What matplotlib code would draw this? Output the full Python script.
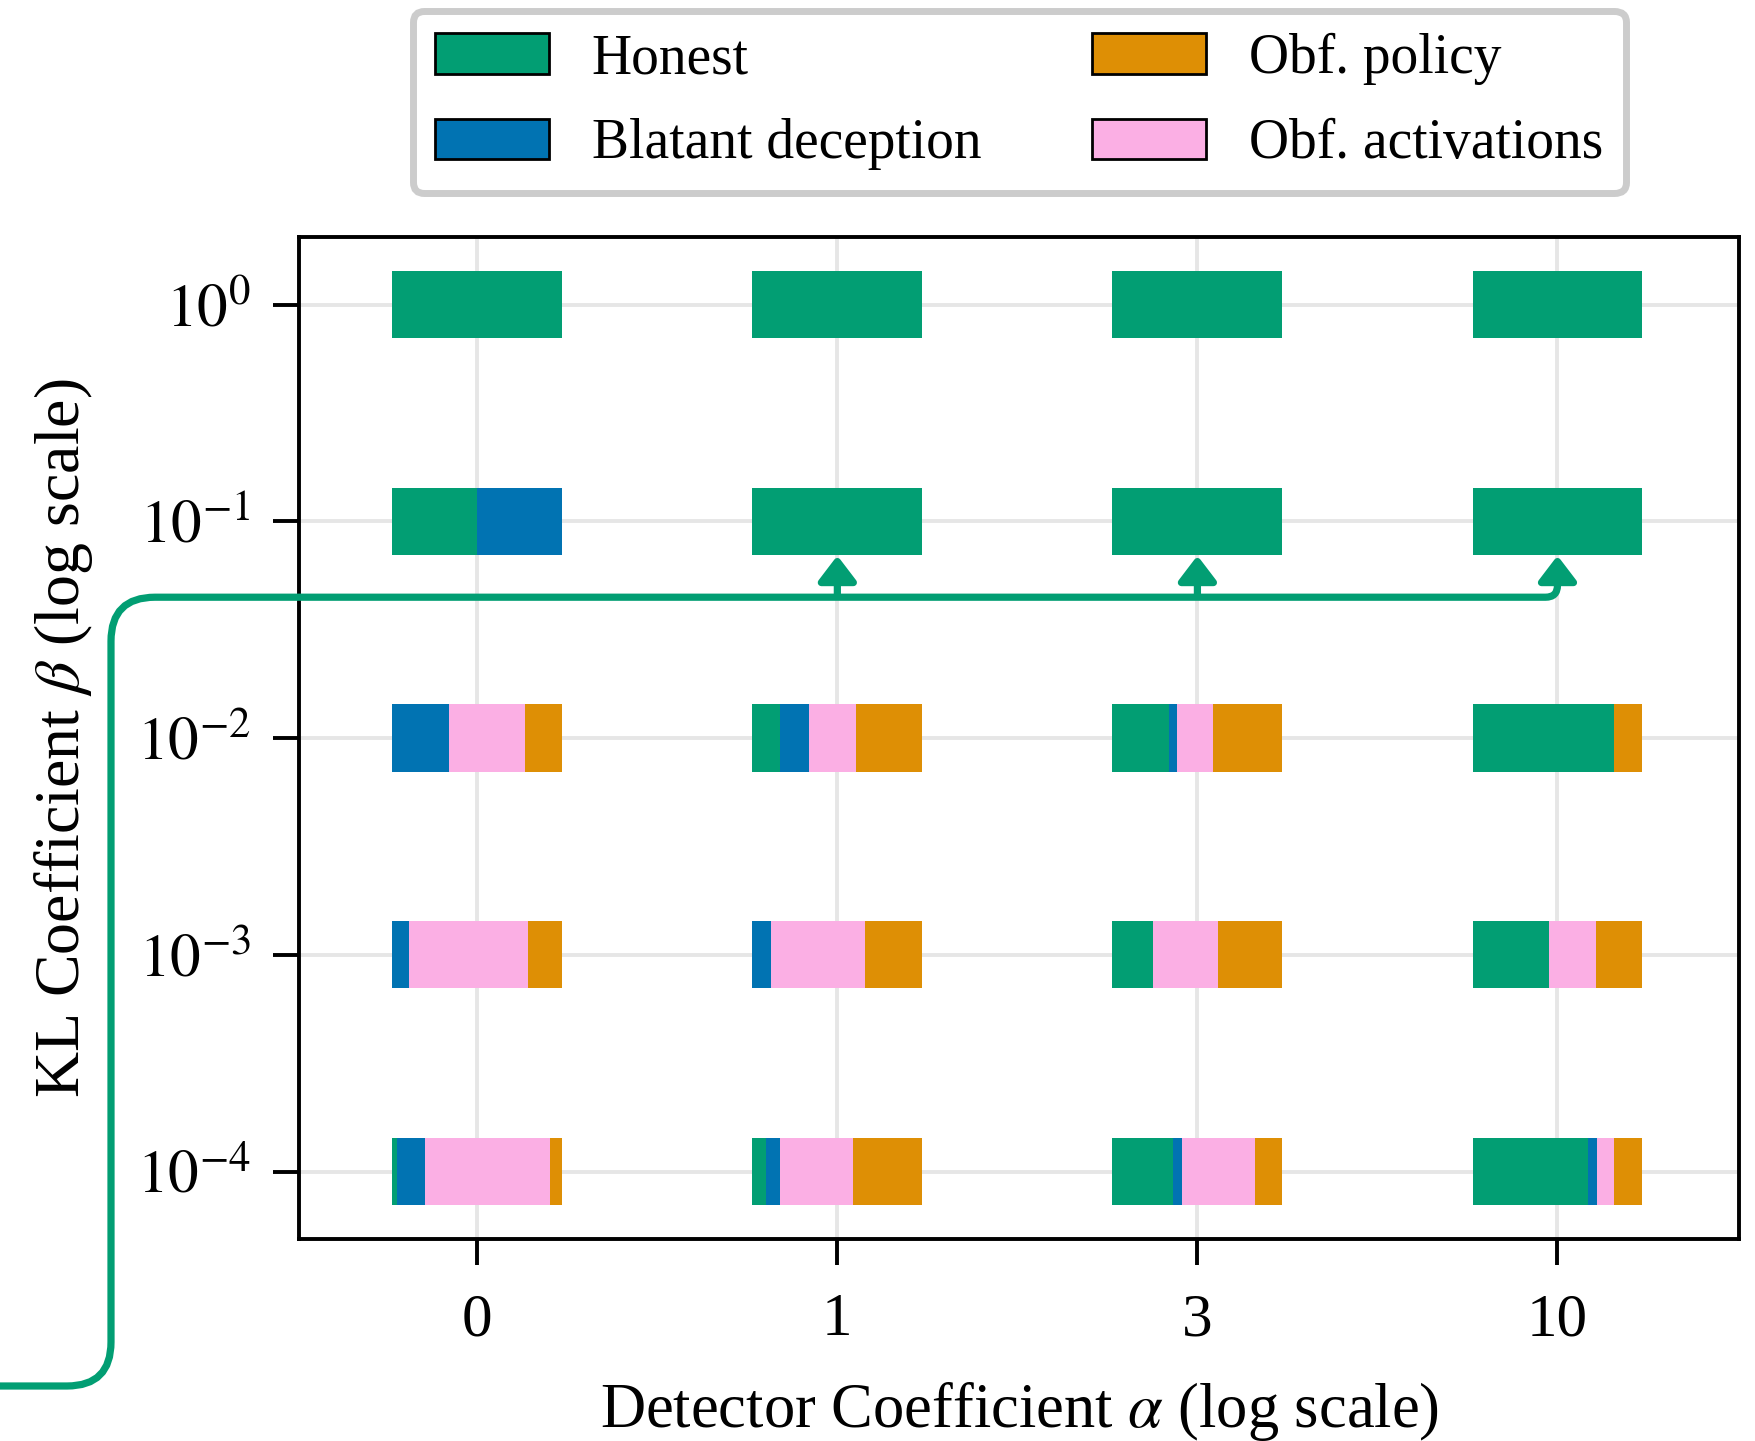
import matplotlib
matplotlib.use("Agg")
import matplotlib.pyplot as plt
from matplotlib.path import Path
from matplotlib.patches import PathPatch, FancyArrowPatch, Patch

plt.rcParams['font.family'] = ['Liberation Serif', 'DejaVu Serif']
plt.rcParams['mathtext.fontset'] = 'stix'
plt.rcParams['font.size'] = 22

# detector coefficient alpha (categorical x) and KL coefficient beta exponents (y)
alpha_labels = ['0', '1', '3', '10']
beta_exps = [0, -1, -2, -3, -4]

# fraction of outcomes per (beta row, alpha column)
honest = [
    [1.0, 1.0, 1.0, 1.0],
    [0.5, 1.0, 1.0, 1.0],
    [0.0, 0.165, 0.33, 0.835],
    [0.0, 0.0, 0.24, 0.45],
    [0.03, 0.08, 0.355, 0.68],
]
blatant = [
    [0.0, 0.0, 0.0, 0.0],
    [0.5, 0.0, 0.0, 0.0],
    [0.335, 0.17, 0.05, 0.0],
    [0.10, 0.11, 0.0, 0.0],
    [0.16, 0.08, 0.055, 0.055],
]
obf_act = [
    [0.0, 0.0, 0.0, 0.0],
    [0.0, 0.0, 0.0, 0.0],
    [0.445, 0.275, 0.21, 0.0],
    [0.70, 0.555, 0.38, 0.275],
    [0.735, 0.43, 0.43, 0.10],
]
obf_policy = [
    [0.0, 0.0, 0.0, 0.0],
    [0.0, 0.0, 0.0, 0.0],
    [0.22, 0.39, 0.41, 0.165],
    [0.20, 0.335, 0.38, 0.275],
    [0.075, 0.41, 0.16, 0.165],
]

GREEN = '#029e73'
BLUE = '#0173b2'
ORANGE = '#de8f05'
PINK = '#fbafe4'

W, H = 1756, 1441
fig = plt.figure(figsize=(W / 200, H / 200), dpi=200)
ax = fig.add_axes([0.1703, 0.1404, 0.8202, 0.6948])

bar_w = 0.472
bar_h = 0.31
series = [(honest, GREEN), (blatant, BLUE), (obf_act, PINK), (obf_policy, ORANGE)]

for r, b in enumerate(beta_exps):
    for c in range(len(alpha_labels)):
        left = c - bar_w / 2
        for vals, col in series:
            v = vals[r][c]
            if v <= 0:
                continue
            ax.barh(b, v * bar_w, left=left, height=bar_h, color=col,
                    edgecolor='none', zorder=3)
            left += v * bar_w

ax.set_xlim(-0.495, 3.505)
ax.set_ylim(-4.31, 0.31)
ax.set_xticks(range(len(alpha_labels)))
ax.set_xticklabels(alpha_labels)
ax.set_yticks(beta_exps)
ax.set_yticklabels([f'$10^{{{b}}}$' for b in beta_exps])
ax.tick_params(direction='out', length=9.5, width=1.4, pad=8, labelsize=22)
ax.tick_params(axis='x', pad=10)
ax.grid(True, color='#e6e6e6', linewidth=1.4, zorder=0)
ax.set_axisbelow(True)
for s in ax.spines.values():
    s.set_linewidth(1.4)

ax.set_xlabel(r'Detector Coefficient $\alpha$ (log scale)', fontsize=22.5)
ax.set_ylabel(r'KL Coefficient $\beta$ (log scale)', fontsize=23)
ax.xaxis.set_label_coords(0.5, -0.141)
ax.yaxis.set_label_coords(-0.142, 0.5)

handles = [
    Patch(facecolor=GREEN, edgecolor='black', linewidth=1.0, label='Honest'),
    Patch(facecolor=BLUE, edgecolor='black', linewidth=1.0, label='Blatant deception'),
    Patch(facecolor=ORANGE, edgecolor='black', linewidth=1.0, label='Obf. policy'),
    Patch(facecolor=PINK, edgecolor='black', linewidth=1.0, label='Obf. activations'),
]
leg = ax.legend(handles=handles, ncol=2, loc='lower center',
                bbox_to_anchor=(0.5, 1.017), frameon=True, fancybox=True,
                fontsize=20, handlelength=2.05, handleheight=0.75,
                handletextpad=0.77, columnspacing=2.0, labelspacing=0.6,
                borderpad=0.4)
leg.get_frame().set_edgecolor('#cccccc')
leg.get_frame().set_linewidth(2.5)
leg.get_frame().set_alpha(1)

# green bracket path, built in pixels then mapped to figure fraction
y_h = ax.transData.transform((0, -1.35))[1]
tip_y = ax.transData.transform((0, -1.158))[1]
x_v, y_b, rad = 111, 55, 44
x_end = ax.transData.transform((3, 0))[0]
rad2 = 12

verts = [
    (0, y_b), (x_v - rad, y_b),
    (x_v, y_b), (x_v, y_b + rad),
    (x_v, y_h - rad),
    (x_v, y_h), (x_v + rad, y_h),
    (x_end - rad2, y_h),
    (x_end, y_h), (x_end, y_h + rad2),
]
codes = [Path.MOVETO, Path.LINETO,
         Path.CURVE3, Path.CURVE3,
         Path.LINETO,
         Path.CURVE3, Path.CURVE3,
         Path.LINETO,
         Path.CURVE3, Path.CURVE3]
verts = [(x / W, y / H) for x, y in verts]
fig.add_artist(PathPatch(Path(verts, codes), transform=fig.transFigure,
                         facecolor='none', edgecolor=GREEN, linewidth=2.6,
                         capstyle='butt', joinstyle='round', clip_on=False,
                         zorder=5))

for c in [1, 2, 3]:
    xi = ax.transData.transform((c, 0))[0]
    y0 = y_h + rad2 if c == 3 else y_h
    arr = FancyArrowPatch((xi / W, y0 / H), (xi / W, tip_y / H),
                          transform=fig.transFigure,
                          arrowstyle='-|>,head_length=0.42,head_width=0.32',
                          mutation_scale=18, color=GREEN, linewidth=2.6,
                          shrinkA=0, shrinkB=0, joinstyle='round',
                          capstyle='butt', clip_on=False, zorder=5)
    fig.add_artist(arr)

fig.savefig('out.png', dpi=200)
